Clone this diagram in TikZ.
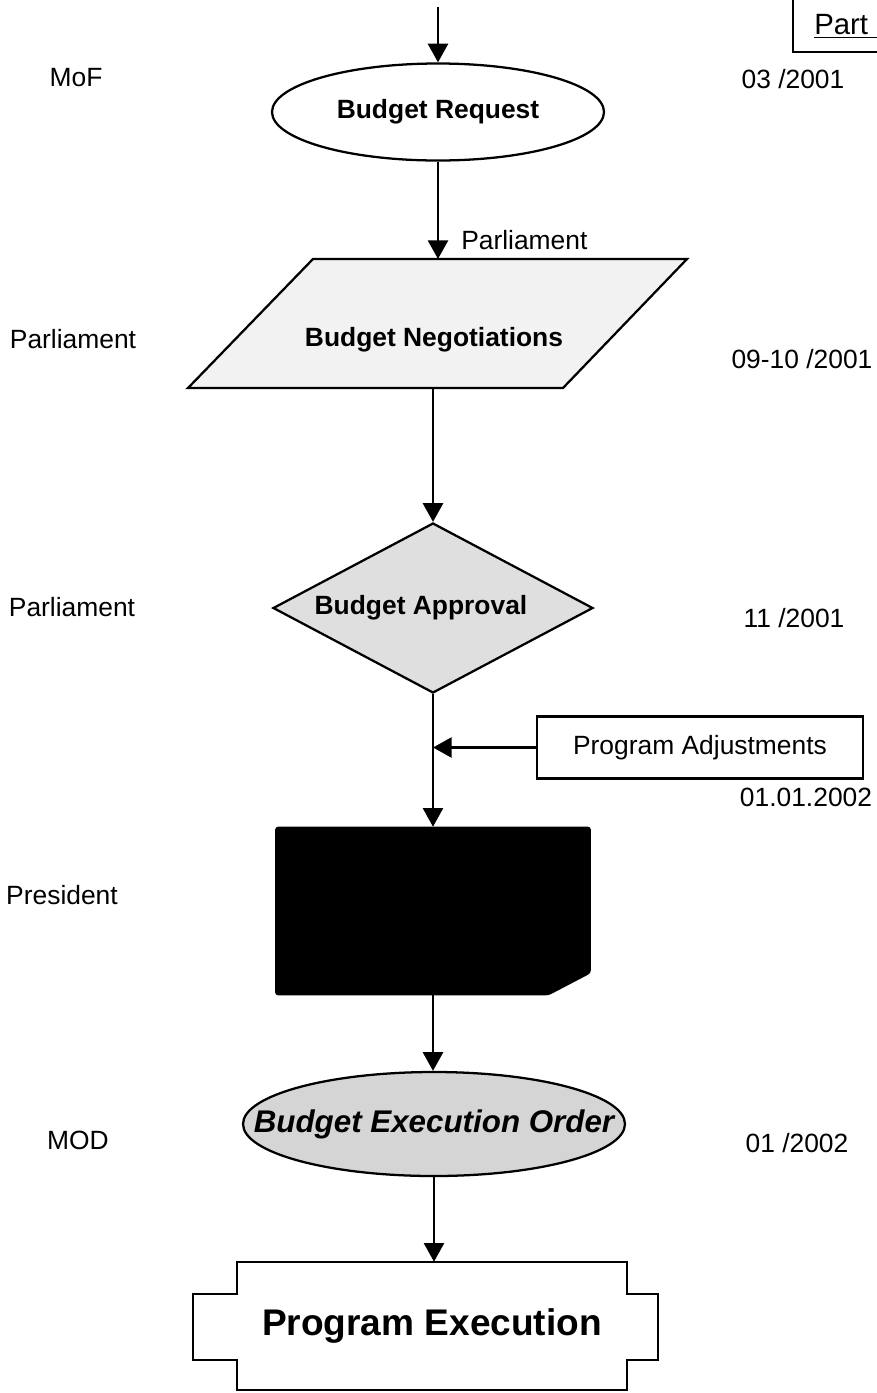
\documentclass[tikz,border=0pt]{standalone}
\usepackage{fontspec}
\setmainfont{Liberation Sans}
\usetikzlibrary{shapes.geometric,arrows.meta}
\begin{document}
\begin{tikzpicture}[x=0.75pt,y=-0.75pt,
  txt/.style={font=\fontsize{19.8}{23}\selectfont, inner sep=0pt},
  btxt/.style={font=\fontsize{19.8}{23}\selectfont\bfseries},
  shp/.style={draw, line width=1.7pt, inner sep=0pt},
  arr/.style={line width=1.9pt, -{Triangle[length=14pt,width=15pt]}},
  line/.style={line width=1.7pt}]
\useasboundingbox (0,0) rectangle (877,1393);

% Part box
\draw[line] (793,-3) -- (793,52) -- (880,52);
\node[font=\fontsize{22}{26}\selectfont, inner sep=0pt, anchor=west] (part) at (814,26) {\underline{Part\hspace{14pt}}};

% Budget Request
\node[shp, btxt, ellipse, minimum width=332*0.75pt, minimum height=97*0.75pt] (req) at (438,112) {Budget Request};

% Budget Negotiations (parallelogram)
\draw[line, fill=gray!10] (313,259) -- (687,259) -- (563,388) -- (188,388) -- cycle;
\coordinate (negtop) at (438,259);
\coordinate (negbot) at (433,388);
\node[btxt, inner sep=0pt] (neg) at (434,340) {Budget Negotiations};

% Budget Approval
\node[shp, btxt, diamond, aspect=1.88, minimum width=320*0.75pt, minimum height=170*0.75pt, fill=gray!25] (appr) at (433,608) {\makebox[0pt][c]{Budget Approval\hspace{18pt}}};

% Program Adjustments
\node[shp, txt, rectangle, minimum width=326*0.75pt, minimum height=62*0.75pt] (adj) at (700,747.5) {Program Adjustments};

% President (black box)
\node[inner sep=0pt, minimum width=315*0.75pt, minimum height=168*0.75pt] (pres) at (433,911) {};
\fill[rounded corners=2pt] (pres.north west) -- (pres.north east) -- ([yshift=16.5pt]pres.south east)
  -- ([xshift=-31.5pt]pres.south east) -- (pres.south west) -- cycle;

% Budget Execution Order
\node[shp, ellipse, minimum width=382*0.75pt, minimum height=104*0.75pt, fill=gray!33,
      font=\fontsize{23.5}{27}\selectfont\bfseries\itshape] (exeo) at (434,1124) {\makebox[0pt][c]{Budget Execution Order}};

% Program Execution
\node[inner sep=0pt, minimum width=391*0.75pt, minimum height=128*0.75pt, font=\fontsize{27.8}{32}\selectfont\bfseries] (prog) at (432,1326) {Program Execution};
\draw[line] (237,1390) -- (237,1360) -- (193,1360) -- (193,1294) -- (237,1294) -- (237,1262)
  -- (627,1262) -- (627,1294) -- (658,1294) -- (658,1360) -- (627,1360) -- (627,1390) -- cycle;

% connectors
\coordinate (topstart) at (438,7);
\draw[arr] (topstart) -- (topstart |- req.north);
\draw[arr] (req.south) -- (negtop);
\draw[arr] (negbot) -- (negbot |- appr.north);
\draw[arr] (appr.south) -- (appr.south |- pres.north);
\draw[arr] (adj.west) -- (adj.west -| appr.south);
\draw[arr] (pres.south) -- (pres.south |- exeo.north);
\draw[arr] (exeo.south) -- (exeo.south |- prog.north);

% labels
\node[txt, anchor=west] (parlarrow) at (461,240) {Parliament};
\node[txt] (mof) at (76,78) {MoF};
\node[txt] (parl1) at (73,339) {Parliament};
\node[txt] (parl2) at (72,607) {Parliament};
\node[txt] (presl) at (62,895) {President};
\node[txt] (mod) at (78,1140) {MOD};
\node[txt] (d1) at (793,79) {03 /2001};
\node[txt] (d2) at (802,359) {09-10 /2001};
\node[txt] (d3) at (794,618) {11 /2001};
\node[txt] (d4) at (806,797) {01.01.2002};
\node[txt] (d5) at (797,1143) {01 /2002};
\end{tikzpicture}
\end{document}
